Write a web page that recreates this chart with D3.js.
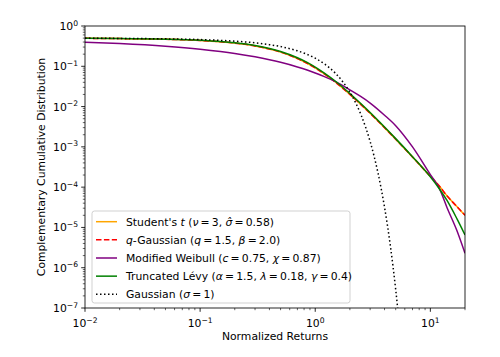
<!DOCTYPE html>
<html><head><meta charset="utf-8">
<script src="https://cdn.jsdelivr.net/npm/d3@7"></script>
<style>body{margin:0;background:#fff}svg{display:block}text{font-family:"DejaVu Sans",sans-serif;fill:#000}</style>
</head><body>
<svg id="c" width="500" height="357"></svg>
<script>
// x grid (normalized returns)
const xs = [0.01,0.02,0.05,0.1,0.15,0.2,0.3,0.4,0.5,0.7,0.85,1,1.2,1.5,2,2.5,3,4,5,7,10,12,14,17,20];
const studentT = [0.494,0.487,0.468,0.437,0.406,0.376,0.320,0.269,0.225,0.156,0.119,0.091,0.0646,0.0403,0.0201,0.0112,0.0068,0.0030,0.00155,5.6e-4,1.85e-4,1.05e-4,6.0e-5,3.3e-5,2.0e-5];
const qGauss   = [0.494,0.487,0.468,0.437,0.406,0.376,0.320,0.269,0.225,0.156,0.119,0.091,0.0646,0.0403,0.0201,0.0112,0.0068,0.0030,0.00155,5.6e-4,1.85e-4,1.05e-4,6.0e-5,3.3e-5,2.0e-5];
const weibull  = [0.3955,0.3656,0.3140,0.2649,0.2322,0.2076,0.1714,0.1453,0.1253,0.0962,0.0805,0.0681,0.0553,0.04155,0.0260,0.01756,0.01224,0.00611,0.00336,9.97e-4,2.05e-4,9.2e-5,3.05e-5,8.4e-6,2.29e-6];
const levy     = [0.496,0.490,0.471,0.441,0.411,0.382,0.327,0.277,0.233,0.163,0.125,0.0955,0.0680,0.0425,0.0211,0.0117,0.0071,0.0031,0.0016,5.7e-4,1.8e-4,9.0e-5,4.6e-5,1.65e-5,6.5e-6];
// Gaussian
const gx = [0.01,0.02,0.05,0.1,0.15,0.2,0.3,0.4,0.5,0.7,0.85,1,1.2,1.5,1.75,2,2.25,2.5,2.75,3,3.25,3.5,3.75,4,4.25,4.5,4.75,5,5.25,5.5];
const gy = [0.4960,0.4920,0.4801,0.4602,0.4404,0.4207,0.3821,0.3446,0.3085,0.2420,0.1977,0.1587,0.1151,0.0668,0.04006,0.02275,0.01222,0.00621,0.00298,0.00135,5.77e-4,2.33e-4,8.84e-5,3.17e-5,1.07e-5,3.40e-6,1.02e-6,2.87e-7,7.6e-8,1.9e-8];

const xTicks = [-2,-1,0,1];
const yTicks = [0,-1,-2,-3,-4,-5,-6,-7];

const EQ = "\u2009=\u2009";
const legendLabels = [
  [["Student's ",""],["t","i"],[" (",""],["ν","i"],[EQ+"3, ",""],["σ̂","i"],[EQ+"0.58)",""]],
  [["q","i"],["-Gaussian (",""],["q","i"],[EQ+"1.5, ",""],["β","i"],[EQ+"2.0)",""]],
  [["Modified Weibull (",""],["c","i"],[EQ+"0.75, ",""],["χ","i"],[EQ+"0.87)",""]],
  [["Truncated Lévy (",""],["α","i"],[EQ+"1.5, ",""],["λ","i"],[EQ+"0.18, ",""],["γ","i"],[EQ+"0.4)",""]],
  [["Gaussian (",""],["σ","i"],[EQ+"1)",""]]
];

const L=85,R=465,T=26,B=308;
const svg = d3.select("#c");
const x = d3.scaleLog().domain([0.01,20]).range([L,R]);
const y = d3.scaleLog().domain([1e-7,1]).range([B,T]);

svg.append("clipPath").attr("id","clip").append("rect").attr("x",L).attr("y",T).attr("width",R-L).attr("height",B-T);

const series = [
  {vals: studentT, xv: xs, color:"#ffa500", dash:null},
  {vals: qGauss, xv: xs, color:"#ff0000", dash:"5.5,2.4"},
  {vals: weibull, xv: xs, color:"#800080", dash:null},
  {vals: levy, xv: xs, color:"#008000", dash:null},
  {vals: gy, xv: gx, color:"#000000", dash:"1.5,2.5"}
];
const line = d3.line().x(d=>x(d[0])).y(d=>y(d[1])).curve(d3.curveMonotoneX);
const g = svg.append("g").attr("clip-path","url(#clip)");
series.forEach(s=>{
  g.append("path").attr("d", line(s.xv.map((v,i)=>[v,s.vals[i]])))
   .attr("fill","none").attr("stroke",s.color).attr("stroke-width",1.5)
   .attr("stroke-dasharray",s.dash);
});

// axes
const minorX=[], minorY=[];
for(let e=-2;e<=1;e++) for(let k=2;k<=9;k++){const v=k*Math.pow(10,e); if(v<=20) minorX.push(v);}
for(let e=-7;e<0;e++) for(let k=2;k<=9;k++) minorY.push(k*Math.pow(10,e));
const ax = svg.append("g");
minorX.forEach(v=>ax.append("line").attr("x1",x(v)).attr("x2",x(v)).attr("y1",B).attr("y2",B+2.2).attr("stroke","#000").attr("stroke-width",0.6));
minorY.forEach(v=>ax.append("line").attr("y1",y(v)).attr("y2",y(v)).attr("x1",L).attr("x2",L-2.2).attr("stroke","#000").attr("stroke-width",0.6));
xTicks.forEach(e=>{
  const px=x(Math.pow(10,e));
  ax.append("line").attr("x1",px).attr("x2",px).attr("y1",B).attr("y2",B+3.8).attr("stroke","#000").attr("stroke-width",0.85);
  const t=ax.append("text").attr("x",px).attr("y",327).attr("text-anchor","middle").attr("font-size",10.8);
  t.append("tspan").text("10");
  t.append("tspan").attr("dy",-4.5).attr("font-size",7.6).text(e<0?"−"+(-e):String(e));
});
yTicks.forEach(e=>{
  const py=y(Math.pow(10,e));
  ax.append("line").attr("y1",py).attr("y2",py).attr("x1",L).attr("x2",L-3.8).attr("stroke","#000").attr("stroke-width",0.85);
  const t=ax.append("text").attr("x",78).attr("y",py+4).attr("text-anchor","end").attr("font-size",10.8);
  t.append("tspan").text("10");
  t.append("tspan").attr("dy",-4.5).attr("font-size",7.6).text(e<0?"−"+(-e):String(e));
});
svg.append("rect").attr("x",L).attr("y",T).attr("width",R-L).attr("height",B-T).attr("fill","none").attr("stroke","#000").attr("stroke-width",0.85);

svg.append("text").attr("x",(L+R)/2).attr("y",340).attr("text-anchor","middle").attr("font-size",10.8).text("Normalized Returns");
svg.append("text").attr("transform",`translate(45,${(T+B)/2}) rotate(-90)`).attr("text-anchor","middle").attr("font-size",10.8).text("Complementary Cumulative Distribution");

// legend
const lg = svg.append("g");
lg.append("rect").attr("x",92).attr("y",211).attr("width",258).attr("height",92).attr("rx",2.5)
  .attr("fill","#fff").attr("fill-opacity",0.8).attr("stroke","#cccccc").attr("stroke-width",0.9);
legendLabels.forEach((parts,i)=>{
  const yy=221.7+i*18.15;
  const s=series[i];
  lg.append("line").attr("x1",96).attr("x2",117).attr("y1",yy).attr("y2",yy)
    .attr("stroke",s.color).attr("stroke-width",1.5).attr("stroke-dasharray",s.dash);
  const t=lg.append("text").attr("x",126).attr("y",yy+4).attr("font-size",10.8);
  parts.forEach(p=>{const ts=t.append("tspan").text(p[0]); if(p[1]==="i") ts.attr("font-style","italic");});
});
</script>
</body></html>
